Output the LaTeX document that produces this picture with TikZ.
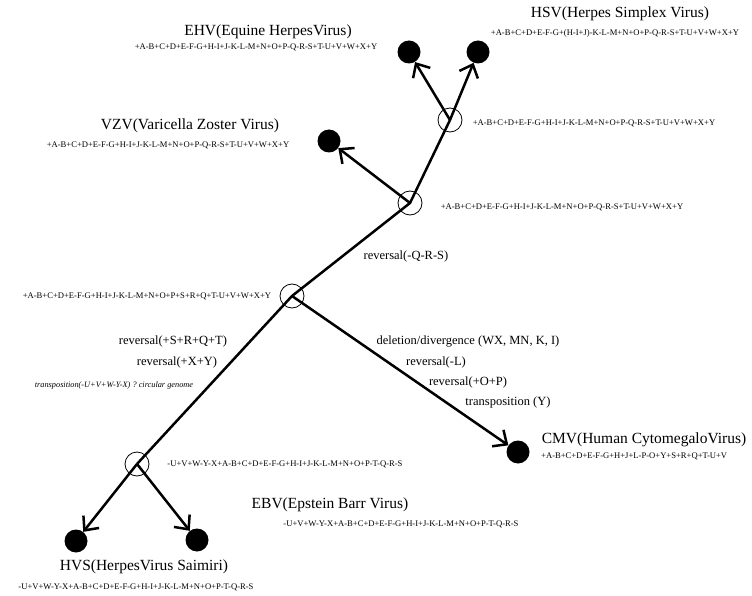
\documentclass[tikz,border=0pt]{standalone}
\usepackage{fontspec}
\setmainfont{Liberation Serif}
\usetikzlibrary{arrows.meta}
\begin{document}
\begin{tikzpicture}[x=1pt,y=-1pt,
  innernode/.style={circle, draw, line width=0.8pt, minimum size=24pt, inner sep=0pt},
  leafnode/.style={circle, fill=black, minimum size=23pt, inner sep=0pt},
  edgeline/.style={line width=2.5pt},
  arrline/.style={line width=2.5pt, -{Straight Barb[length=11pt, width=20pt, line width=2.5pt]}},
  titletext/.style={font=\fontsize{15.5}{17}\selectfont, inner sep=0pt},
  genetext/.style={font=\fontsize{8.6}{9}\selectfont, inner sep=0pt},
  labtext/.style={font=\fontsize{12.5}{14}\selectfont, inner sep=0pt},
  itatext/.style={font=\fontsize{8.3}{9}\selectfont\itshape, inner sep=0pt}]
\useasboundingbox (0,0) rectangle (752,596);
% internal nodes
\node[innernode] (n1) at (450,120) {};
\node[innernode] (n2) at (410,203) {};
\node[innernode] (n3) at (292,296) {};
\node[innernode] (n4) at (137,464) {};
% leaves
\node[leafnode] (ehv) at (409,52) {};
\node[leafnode] (hsv) at (478,52) {};
\node[leafnode] (vzv) at (329,141) {};
\node[leafnode] (cmv) at (518,452) {};
\node[leafnode] (hvs) at (76,541) {};
\node[leafnode] (ebv) at (197,540) {};
% edges
\draw[edgeline] (n4.center) -- (n3.center) -- (n2.center) -- (n1.center);
\draw[arrline] (n1.center) -- (ehv);
\draw[arrline] (n1.center) -- (hsv);
\draw[arrline] (n2.center) -- (vzv);
\draw[arrline] (n3.center) -- (cmv);
\draw[arrline] (n4.center) -- (hvs);
\draw[arrline] (n4.center) -- (ebv);
% titles
\node[titletext] (tehv) at (268,32) {EHV(Equine HerpesVirus)};
\node[titletext] (thsv) at (620,14) {HSV(Herpes Simplex Virus)};
\node[titletext] (tvzv) at (190,126) {VZV(Varicella Zoster Virus)};
\node[titletext] (tcmv) at (644,440) {CMV(Human CytomegaloVirus)};
\node[titletext] (tebv) at (330,505) {EBV(Epstein Barr Virus)};
\node[titletext] (thvs) at (144,567) {HVS(HerpesVirus Saimiri)};
% gene orders
\node[genetext] (gehv) at (256,47) {+A-B+C+D+E-F-G+H-I+J-K-L-M+N+O+P-Q-R-S+T-U+V+W+X+Y};
\node[genetext] (ghsv) at (615,33) {+A-B+C+D+E-F-G+(H-I+J)-K-L-M+N+O+P-Q-R-S+T-U+V+W+X+Y};
\node[genetext] (gn1) at (594,123) {+A-B+C+D+E-F-G+H-I+J-K-L-M+N+O+P-Q-R-S+T-U+V+W+X+Y};
\node[genetext] (gvzv) at (168,145) {+A-B+C+D+E-F-G+H-I+J-K-L-M+N+O+P-Q-R-S+T-U+V+W+X+Y};
\node[genetext] (gn2) at (562,207) {+A-B+C+D+E-F-G+H-I+J-K-L-M+N+O+P-Q-R-S+T-U+V+W+X+Y};
\node[genetext] (gn3) at (147,296) {+A-B+C+D+E-F-G+H-I+J-K-L-M+N+O+P+S+R+Q+T-U+V+W+X+Y};
\node[genetext, anchor=west] (gcmv) at (541,456) {+A-B+C+D+E-F-G+H+J+L-P-O+Y+S+R+Q+T-U+V};
\node[genetext] (gn4) at (285,464) {-U+V+W-Y-X+A-B+C+D+E-F-G+H-I+J-K-L-M+N+O+P-T-Q-R-S};
\node[genetext] (gebv) at (401,524) {-U+V+W-Y-X+A-B+C+D+E-F-G+H-I+J-K-L-M+N+O+P-T-Q-R-S};
\node[genetext] (ghvs) at (136,587) {-U+V+W-Y-X+A-B+C+D+E-F-G+H-I+J-K-L-M+N+O+P-T-Q-R-S};
% edge labels
\node[labtext] (l1) at (406,256) {reversal(-Q-R-S)};
\node[labtext] (l2) at (173,341) {reversal(+S+R+Q+T)};
\node[labtext] (l3) at (177,362) {reversal(+X+Y)};
\node[itatext] (l4) at (114,386) {transposition(-U+V+W-Y-X) ? circular genome};
\node[labtext] (l5) at (468,342) {deletion/divergence (WX, MN, K, I)};
\node[labtext] (l6) at (436,362) {reversal(-L)};
\node[labtext] (l7) at (468,382) {reversal(+O+P)};
\node[labtext] (l8) at (508,402) {transposition (Y)};
\end{tikzpicture}
\end{document}
